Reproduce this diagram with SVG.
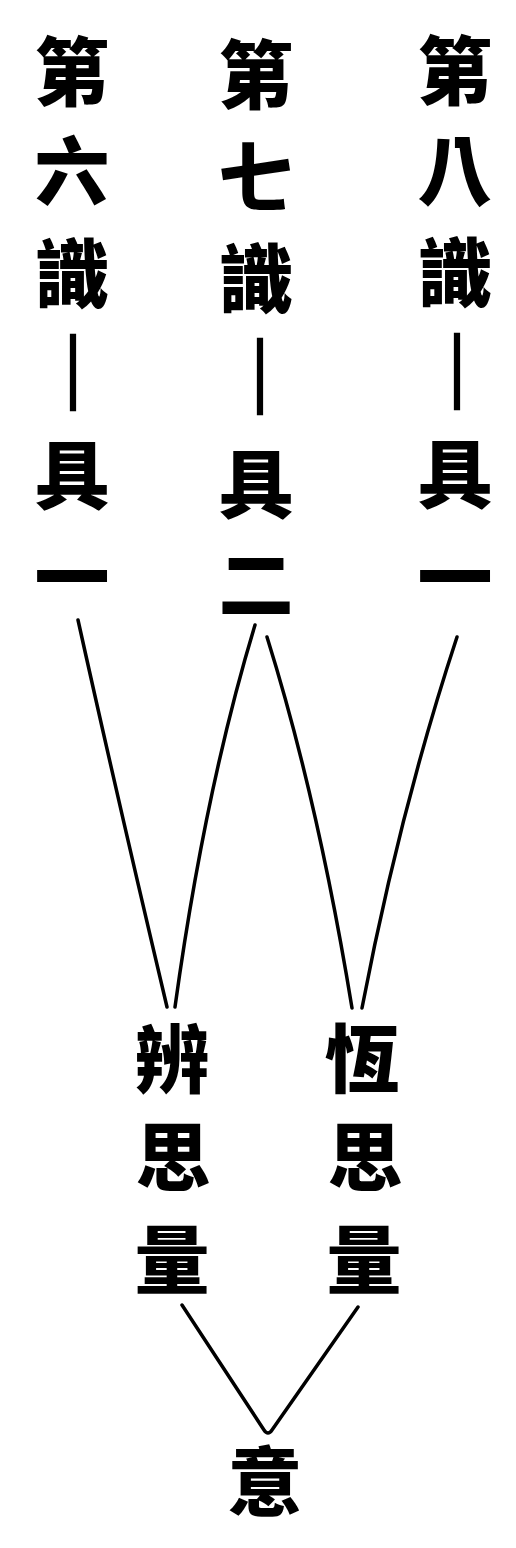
<svg xmlns="http://www.w3.org/2000/svg" width="516" height="1548" viewBox="0 0 516 1548">
<style>
.c{font-family:"Noto Sans CJK TC","Noto Sans CJK SC",sans-serif;font-size:75px;font-weight:900;fill:#000;text-anchor:middle}
.d{stroke:#000;stroke-width:2.5}
.ln{fill:none;stroke:#000;stroke-width:3.5;stroke-linecap:round}
</style>
<rect width="516" height="1548" fill="#fff"/>
<g id="col6">
<text class="c" x="72" y="100">第</text>
<text class="c" x="72" y="199">六</text>
<text class="c" x="72" y="302">識</text>
<text class="c d" x="73" y="401">｜</text>
<text class="c" x="72" y="503">具</text>
<text class="c" x="72" y="605">一</text>
</g>
<g id="col7">
<text class="c" x="256" y="103">第</text>
<text class="c" x="256" y="205">七</text>
<text class="c" x="256" y="307">識</text>
<text class="c d" x="260" y="405">｜</text>
<text class="c" x="256" y="512">具</text>
<text class="c" x="256" y="612">二</text>
</g>
<g id="col8">
<text class="c" x="455" y="99">第</text>
<text class="c" x="455" y="199">八</text>
<text class="c" x="455" y="301">識</text>
<text class="c d" x="457" y="400">｜</text>
<text class="c" x="455" y="502">具</text>
<text class="c" x="455" y="605">一</text>
</g>
<g id="bian">
<text class="c" x="172" y="1087">辨</text>
<text class="c" x="173" y="1185">思</text>
<text class="c" x="172" y="1288">量</text>
</g>
<g id="heng">
<text class="c" x="362" y="1087">恆</text>
<text class="c" x="365" y="1185">思</text>
<text class="c" x="364" y="1288">量</text>
</g>
<g id="yi">
<text class="c" x="265" y="1510">意</text>
</g>
<g id="connectors">
<path class="ln" d="M78,620 Q118,800 167,1007"/>
<path class="ln" d="M255,625 Q205,790 175,1007"/>
<path class="ln" d="M267,637 Q318,800 352,1008"/>
<path class="ln" d="M457,637 Q400,810 362,1008"/>
<path class="ln" d="M182,1305 L264,1430 Q268,1436 272,1430 L358,1307"/>
</g>
</svg>
